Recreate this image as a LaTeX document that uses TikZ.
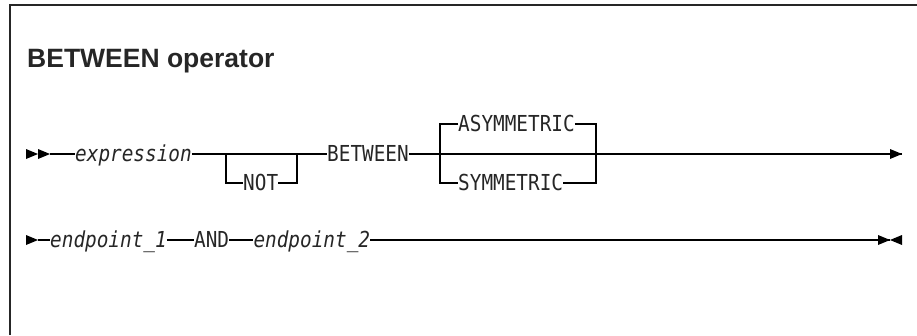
\documentclass[tikz,border=0pt]{standalone}
\usepackage{fontspec}
\setmainfont{Liberation Sans}
\newfontfamily\railfont[FakeStretch=0.88]{DejaVu Sans Mono}
\usetikzlibrary{positioning}

% filled tip of a rail line, #1 = point of the tip
\newcommand{\railtip}[1]{\fill #1 -- ++(-12,-5) -- ++(0,10) -- cycle;}
\newcommand{\railback}[1]{\fill #1 -- ++(12,-5) -- ++(0,10) -- cycle;}

\begin{document}
\begin{tikzpicture}[x=1pt,y=-1pt,
        rail/.style={line width=1.3pt},
        frame/.style={line width=2pt,draw=black!85},
        kw/.style={font=\railfont\fontsize{22}{24}\selectfont,inner sep=0pt,
          text height=15.6pt,text depth=0pt,anchor=west,text=black!85},
        var/.style={kw,font=\railfont\itshape\fontsize{22}{24}\selectfont},
        title/.style={font=\bfseries\fontsize{26.5}{28}\selectfont,inner sep=0pt,
          anchor=base west,text=black!85}]
      \useasboundingbox (0,0) rectangle (917,335);
      \draw[frame] (10,335) -- (10,5) -- (917,5);

      \node[title] (title) at (27,67) {BETWEEN operator};

      % first line
      \coordinate (in1) at (50,154);
      \node[var] (expr) at (75,154) {expression};
      \coordinate (nl) at (226,154);
      \coordinate (nr) at (297,154);
      \node[kw] (not) at (243,183) {NOT};
      \node[kw] (betw) at (327,154) {BETWEEN};
      \coordinate (cl) at (440,154);
      \coordinate (cr) at (596,154);
      \node[kw] (asym) at (458,124) {ASYMMETRIC};
      \node[kw] (sym) at (458,183) {SYMMETRIC};
      \coordinate (end1) at (902,154);

      \railtip{(38,154)}
      \railtip{(in1)}
      \draw[rail] (in1) -- (expr.west);
      \draw[rail] (expr.east) -- (betw.west);
      \draw[rail] (nl) |- (not.west);
      \draw[rail] (not.east) -| (nr);
      \draw[rail] (betw.east) -- (end1);
      \draw[rail] (asym.west) -| (cl) |- (sym.west);
      \draw[rail] (asym.east) -| (cr);
      \draw[rail] (sym.east) -| (cr);
      \railtip{(end1)}

      % second line
      \coordinate (in2) at (38,240);
      \node[var] (ep1) at (50,240) {endpoint\_1};
      \node[kw] (and) [right=27pt of ep1] {AND};
      \node[var] (ep2) [right=24pt of and] {endpoint\_2};
      \coordinate (end2) at (890,240);

      \railtip{(in2)}
      \draw[rail] (in2) -- (ep1.west);
      \draw[rail] (ep1.east) -- (and.west);
      \draw[rail] (and.east) -- (ep2.west);
      \draw[rail] (ep2.east) -- (end2);
      \railtip{(end2)}
      \railback{(end2)}
\end{tikzpicture}
\end{document}
